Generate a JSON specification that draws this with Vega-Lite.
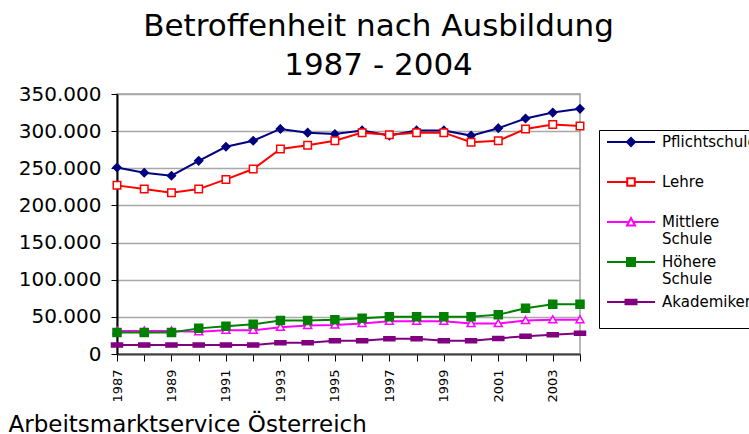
{
  "$schema": "https://vega.github.io/schema/vega-lite/v6.json",
  "width": 463,
  "height": 260,
  "autosize": {"type": "none"},
  "padding": {"left": 117, "top": 94, "right": 169, "bottom": 80},
  "background": "white",
  "config": {"font": "DejaVu Sans", "view": {"stroke": "#a0a0a0", "strokeWidth": 1.5}},
  "title": {"text": ["Betroffenheit nach Ausbildung", "1987 - 2004"], "fontSize": 31, "fontWeight": "normal", "lineHeight": 39, "font": "DejaVu Sans", "color": "#000000", "anchor": "middle", "frame": "group", "dx": 30, "baseline": "bottom", "offset": -29},
  "data": {"values": [
    {"year":1987,"series":"Pflichtschule","value":251000},{"year":1988,"series":"Pflichtschule","value":244000},{"year":1989,"series":"Pflichtschule","value":240000},{"year":1990,"series":"Pflichtschule","value":260000},{"year":1991,"series":"Pflichtschule","value":279000},{"year":1992,"series":"Pflichtschule","value":287000},{"year":1993,"series":"Pflichtschule","value":303000},{"year":1994,"series":"Pflichtschule","value":298000},{"year":1995,"series":"Pflichtschule","value":296000},{"year":1996,"series":"Pflichtschule","value":301000},{"year":1997,"series":"Pflichtschule","value":294000},{"year":1998,"series":"Pflichtschule","value":301000},{"year":1999,"series":"Pflichtschule","value":301000},{"year":2000,"series":"Pflichtschule","value":294000},{"year":2001,"series":"Pflichtschule","value":304000},{"year":2002,"series":"Pflichtschule","value":317000},{"year":2003,"series":"Pflichtschule","value":325000},{"year":2004,"series":"Pflichtschule","value":330000},
    {"year":1987,"series":"Lehre","value":227000},{"year":1988,"series":"Lehre","value":222000},{"year":1989,"series":"Lehre","value":217000},{"year":1990,"series":"Lehre","value":222000},{"year":1991,"series":"Lehre","value":235000},{"year":1992,"series":"Lehre","value":249000},{"year":1993,"series":"Lehre","value":276000},{"year":1994,"series":"Lehre","value":281000},{"year":1995,"series":"Lehre","value":287000},{"year":1996,"series":"Lehre","value":298000},{"year":1997,"series":"Lehre","value":295000},{"year":1998,"series":"Lehre","value":298000},{"year":1999,"series":"Lehre","value":298000},{"year":2000,"series":"Lehre","value":285000},{"year":2001,"series":"Lehre","value":287000},{"year":2002,"series":"Lehre","value":303000},{"year":2003,"series":"Lehre","value":309000},{"year":2004,"series":"Lehre","value":307000},
    {"year":1987,"series":"Mittlere Schule","value":31000},{"year":1988,"series":"Mittlere Schule","value":31000},{"year":1989,"series":"Mittlere Schule","value":31000},{"year":1990,"series":"Mittlere Schule","value":30000},{"year":1991,"series":"Mittlere Schule","value":32000},{"year":1992,"series":"Mittlere Schule","value":32000},{"year":1993,"series":"Mittlere Schule","value":36000},{"year":1994,"series":"Mittlere Schule","value":38500},{"year":1995,"series":"Mittlere Schule","value":39000},{"year":1996,"series":"Mittlere Schule","value":41000},{"year":1997,"series":"Mittlere Schule","value":44000},{"year":1998,"series":"Mittlere Schule","value":44000},{"year":1999,"series":"Mittlere Schule","value":44000},{"year":2000,"series":"Mittlere Schule","value":41000},{"year":2001,"series":"Mittlere Schule","value":41000},{"year":2002,"series":"Mittlere Schule","value":45000},{"year":2003,"series":"Mittlere Schule","value":46000},{"year":2004,"series":"Mittlere Schule","value":46000},
    {"year":1987,"series":"Höhere Schule","value":29000},{"year":1988,"series":"Höhere Schule","value":29000},{"year":1989,"series":"Höhere Schule","value":29000},{"year":1990,"series":"Höhere Schule","value":34500},{"year":1991,"series":"Höhere Schule","value":37500},{"year":1992,"series":"Höhere Schule","value":40000},{"year":1993,"series":"Höhere Schule","value":45000},{"year":1994,"series":"Höhere Schule","value":45000},{"year":1995,"series":"Höhere Schule","value":46000},{"year":1996,"series":"Höhere Schule","value":48000},{"year":1997,"series":"Höhere Schule","value":50000},{"year":1998,"series":"Höhere Schule","value":50000},{"year":1999,"series":"Höhere Schule","value":50000},{"year":2000,"series":"Höhere Schule","value":50000},{"year":2001,"series":"Höhere Schule","value":53000},{"year":2002,"series":"Höhere Schule","value":61500},{"year":2003,"series":"Höhere Schule","value":67000},{"year":2004,"series":"Höhere Schule","value":67000},
    {"year":1987,"series":"Akademiker","value":12000},{"year":1988,"series":"Akademiker","value":12000},{"year":1989,"series":"Akademiker","value":12000},{"year":1990,"series":"Akademiker","value":12000},{"year":1991,"series":"Akademiker","value":12000},{"year":1992,"series":"Akademiker","value":12000},{"year":1993,"series":"Akademiker","value":15000},{"year":1994,"series":"Akademiker","value":15000},{"year":1995,"series":"Akademiker","value":18000},{"year":1996,"series":"Akademiker","value":18000},{"year":1997,"series":"Akademiker","value":20500},{"year":1998,"series":"Akademiker","value":20500},{"year":1999,"series":"Akademiker","value":18000},{"year":2000,"series":"Akademiker","value":18000},{"year":2001,"series":"Akademiker","value":21000},{"year":2002,"series":"Akademiker","value":24000},{"year":2003,"series":"Akademiker","value":26000},{"year":2004,"series":"Akademiker","value":28000}
  ]},
  "encoding": {
    "x": {"field": "year", "type": "quantitative",
      "scale": {"domain": [1987, 2004], "nice": false, "zero": false},
      "axis": {"values": [1987,1988,1989,1990,1991,1992,1993,1994,1995,1996,1997,1998,1999,2000,2001,2002,2003,2004],
        "labelExpr": "datum.value % 2 == 1 ? datum.label : ''", "format": "d",
        "labelAngle": 270, "labelFontSize": 13, "labelFont": "DejaVu Sans", "labelColor": "#000000",
        "labelFlush": false, "labelOverlap": false, "labelPadding": 8,
        "tickSize": 7, "tickColor": "#000000", "tickWidth": 1,
        "domainColor": "#404040", "domainWidth": 2, "grid": false,
        "title": "Arbeitsmarktservice Österreich", "titleFont": "DejaVu Sans", "titleFontSize": 23,
        "titleFontWeight": "normal", "titleColor": "#000000", "titleAnchor": "start", "titleAlign": "left",
        "titleX": -109, "titleY": 77, "titleBaseline": "alphabetic"}},
    "y": {"field": "value", "type": "quantitative",
      "scale": {"domain": [0, 350000], "nice": false},
      "axis": {"values": [0,50000,100000,150000,200000,250000,300000,350000],
        "labelExpr": "replace(format(datum.value, ',d'), ',', '.')",
        "labelFontSize": 20, "labelFont": "DejaVu Sans", "labelColor": "#000000", "labelFlush": false,
        "labelPadding": 10, "tickSize": 6, "tickColor": "#000000", "tickWidth": 1,
        "domainColor": "#000000", "domainWidth": 2,
        "grid": true, "gridColor": "#a8a8a8", "gridWidth": 1.5, "title": null}}
  },
  "layer": [
    {
      "mark": {"type": "line", "strokeWidth": 2},
      "encoding": {
        "color": {"field": "series", "type": "nominal",
          "scale": {"domain": ["Pflichtschule","Lehre","Mittlere Schule","Höhere Schule","Akademiker"], "range": ["#000080","#ff0000","#ff00ff","#008000","#800080"]},
          "legend": null}
      }
    },
    {
      "mark": {"type": "point", "filled": true, "strokeWidth": 1.5, "opacity": 1, "size": 100},
      "encoding": {
        "shape": {"field": "series", "type": "nominal",
          "scale": {"domain": ["Pflichtschule","Lehre","Mittlere Schule","Höhere Schule","Akademiker"],
            "range": ["M0,-0.8L0.8,0L0,0.8L-0.8,0Z", "M-0.75,-0.75H0.75V0.75H-0.75Z", "M0,-0.8L0.8,0.6L-0.8,0.6Z", "M-0.8,-0.8H0.8V0.8H-0.8Z", "M-1.1,-0.4H1.1V0.4H-1.1Z"]},
          "legend": null},
        "fill": {"field": "series", "type": "nominal",
          "scale": {"domain": ["Pflichtschule","Lehre","Mittlere Schule","Höhere Schule","Akademiker"], "range": ["#000080","#ffffff","#ffffff","#008000","#800080"]},
          "legend": null},
        "stroke": {"field": "series", "type": "nominal",
          "scale": {"domain": ["Pflichtschule","Lehre","Mittlere Schule","Höhere Schule","Akademiker"], "range": ["#000080","#ff0000","#ff00ff","#008000","#800080"]},
          "legend": null}
      }
    },
    {
      "transform": [{"filter": "false"}],
      "mark": {"type": "point", "filled": true, "strokeWidth": 2, "opacity": 1},
      "encoding": {
        "shape": {"field": "series", "type": "nominal",
          "scale": {"domain": ["Pflichtschule","Lehre","Mittlere Schule","Höhere Schule","Akademiker"],
            "range": ["M-2.4,0H2.4M0,-0.4L0.4,0L0,0.4L-0.4,0Z", "M-2.4,0H-0.38M0.38,0H2.4M-0.38,-0.38H0.38V0.38H-0.38Z", "M-2.4,0H-0.25M0.25,0H2.4M0,-0.4L0.4,0.35L-0.4,0.35Z", "M-2.4,0H2.4M-0.4,-0.4H0.4V0.4H-0.4Z", "M-2.4,0H2.4M-0.55,-0.22H0.55V0.22H-0.55Z"]},
          "legend": {"title": null, "orient": "none", "legendX": 482, "legendY": 36, "strokeColor": "#000000", "fillColor": "#ffffff", "padding": 1, "symbolSize": 400, "symbolStrokeWidth": 2, "symbolOffset": 20, "labelOffset": 20, "labelFont": "DejaVu Sans", "labelFontSize": 15, "labelColor": "#000000", "labelLimit": 300, "rowPadding": 4,
            "labelExpr": "datum.label == 'Mittlere Schule' ? ['Mittlere', 'Schule'] : datum.label == 'Höhere Schule' ? ['Höhere', 'Schule'] : [datum.label, '']",
            "encode": {"labels": {"lineHeight": {"value": 20}}}}},
        "fill": {"field": "series", "type": "nominal",
          "scale": {"domain": ["Pflichtschule","Lehre","Mittlere Schule","Höhere Schule","Akademiker"], "range": ["#000080","#ffffff","#ffffff","#008000","#800080"]},
          "legend": {"title": null, "orient": "none", "legendX": 482, "legendY": 36, "strokeColor": "#000000", "fillColor": "#ffffff", "padding": 1, "symbolSize": 400, "symbolStrokeWidth": 2, "symbolOffset": 20, "labelOffset": 20, "labelFont": "DejaVu Sans", "labelFontSize": 15, "labelColor": "#000000", "labelLimit": 300, "rowPadding": 4,
            "labelExpr": "datum.label == 'Mittlere Schule' ? ['Mittlere', 'Schule'] : datum.label == 'Höhere Schule' ? ['Höhere', 'Schule'] : [datum.label, '']",
            "encode": {"labels": {"lineHeight": {"value": 20}}}}},
        "stroke": {"field": "series", "type": "nominal",
          "scale": {"domain": ["Pflichtschule","Lehre","Mittlere Schule","Höhere Schule","Akademiker"], "range": ["#000080","#ff0000","#ff00ff","#008000","#800080"]},
          "legend": {"title": null, "orient": "none", "legendX": 482, "legendY": 36, "strokeColor": "#000000", "fillColor": "#ffffff", "padding": 1, "symbolSize": 400, "symbolStrokeWidth": 2, "symbolOffset": 20, "labelOffset": 20, "labelFont": "DejaVu Sans", "labelFontSize": 15, "labelColor": "#000000", "labelLimit": 300, "rowPadding": 4,
            "labelExpr": "datum.label == 'Mittlere Schule' ? ['Mittlere', 'Schule'] : datum.label == 'Höhere Schule' ? ['Höhere', 'Schule'] : [datum.label, '']",
            "encode": {"labels": {"lineHeight": {"value": 20}}}}}
      }
    }
  ],
  "resolve": {"scale": {"color": "independent", "shape": "independent", "fill": "independent", "stroke": "independent"}}
}
